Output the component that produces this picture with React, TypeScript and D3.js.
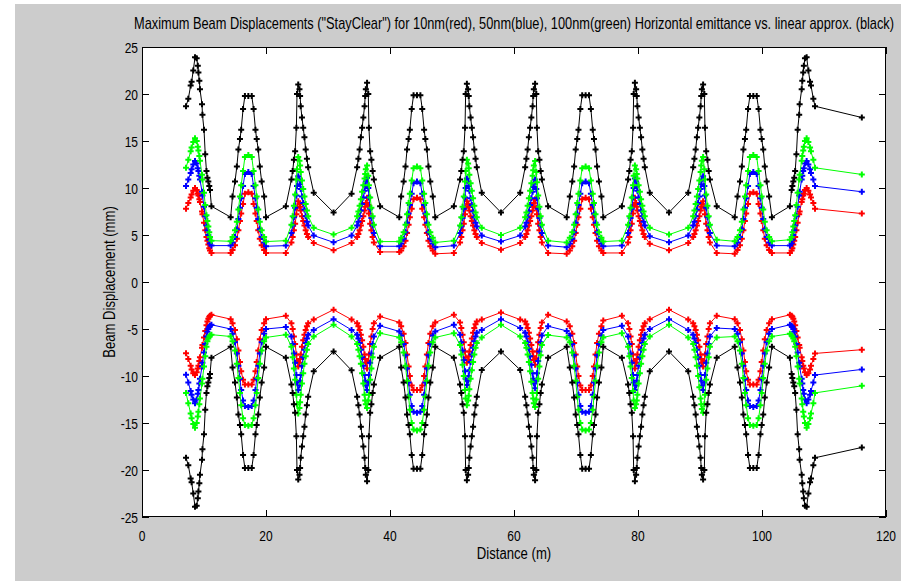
import React from 'react';
import * as d3 from 'd3';

// Distance along the beamline (m)
const distance = [
  7.1, 7.47, 7.85, 8.0, 8.27, 8.55, 8.82, 9.0, 9.1, 9.25, 9.35, 9.68, 9.75, 10.0, 10.2, 10.4, 10.55, 10.7, 10.85, 10.97, 11.2,
  14.3,
  14.6, 15.0, 15.3, 15.55, 15.8, 16.0, 16.3, 16.6, 17.15, 17.7, 18.0, 18.3, 18.5, 18.75, 19.0, 19.3, 19.7,
  20.0, 23.2,
  24.1, 24.3, 24.5, 24.7, 24.9, 25.0, 25.2, 25.4, 25.5, 25.6, 25.8, 26.0, 26.2, 26.4, 26.6, 26.8,
  27.7, 30.9, 33.8,
  34.7, 34.9, 35.1, 35.3, 35.5, 35.7, 35.9, 36.0, 36.1, 36.3, 36.5, 36.6, 36.8, 37.0, 37.2, 37.4,
  38.4, 41.5,
  41.8, 42.2, 42.5, 42.75, 43.0, 43.2, 43.5, 43.8, 44.35, 44.9, 45.2, 45.5, 45.7, 45.95, 46.2, 46.5, 46.9,
  47.3, 50.3,
  51.3, 51.5, 51.7, 51.9, 52.1, 52.2, 52.4, 52.6, 52.7, 52.8, 53.0, 53.2, 53.4, 53.6, 53.8, 54.0,
  54.8, 57.9, 61.0,
  61.8, 62.0, 62.2, 62.4, 62.6, 62.8, 63.0, 63.1, 63.2, 63.4, 63.6, 63.7, 63.9, 64.1, 64.3, 64.5,
  65.5, 68.5,
  69.0, 69.4, 69.7, 69.95, 70.2, 70.4, 70.7, 71.0, 71.55, 72.1, 72.4, 72.7, 72.9, 73.15, 73.4, 73.7, 74.1,
  74.4, 77.4,
  78.4, 78.6, 78.8, 79.0, 79.2, 79.3, 79.5, 79.7, 79.8, 79.9, 80.1, 80.3, 80.5, 80.7, 80.9, 81.1,
  81.9, 85.0, 88.1,
  88.9, 89.1, 89.3, 89.5, 89.7, 89.9, 90.1, 90.2, 90.3, 90.5, 90.7, 90.8, 91.0, 91.2, 91.4, 91.6,
  92.7, 95.6,
  96.05, 96.45, 96.75, 97.0, 97.25, 97.45, 97.75, 98.05, 98.6, 99.15, 99.45, 99.75, 99.95, 100.2, 100.45, 100.75, 101.15,
  101.6, 104.5,
  104.78, 104.9, 105.05, 105.2, 105.35, 105.55, 105.75, 106.0, 106.07, 106.4, 106.5, 106.65, 106.75, 106.93, 107.2, 107.48, 107.75, 107.9, 108.28, 108.55,
  116.1,
];

// Linear approximation (black), upper envelope
const upperBlack = [
  18.7, 19.5, 20.9, 21.3, 22.5, 23.9, 23.8, 23.0, 22.3, 21.4, 20.5, 18.9, 17.8, 16.2, 13.6, 11.8, 11.1, 10.7, 10.2, 9.8, 8.06,
  6.9,
  9.1, 10.7, 12.3, 14.1, 15.2, 16.2, 18.4, 19.8, 19.8, 19.8, 18.4, 16.2, 15.2, 14.1, 12.3, 10.7, 9.1,
  6.9, 8.06,
  10.9, 11.8, 13.0, 13.9, 16.4, 20.0, 21.0, 20.5, 19.8, 18.7, 17.5, 16.4, 15.4, 14.1, 13.1, 12.2,
  9.5, 7.4, 9.4,
  12.2, 13.1, 14.1, 15.4, 16.4, 17.5, 18.7, 19.8, 20.5, 21.2, 20.0, 16.4, 13.9, 13.0, 11.8, 10.9,
  8.06, 6.9,
  9.1, 10.7, 12.3, 14.1, 15.2, 16.2, 18.4, 19.86, 19.86, 19.86, 18.4, 16.2, 15.2, 14.1, 12.3, 10.7, 9.1,
  6.9, 8.06,
  10.9, 11.8, 13.0, 13.9, 16.4, 20.0, 21.1, 20.5, 19.8, 18.7, 17.5, 16.4, 15.4, 14.1, 13.1, 12.2,
  9.5, 7.4, 9.5,
  12.2, 13.1, 14.1, 15.4, 16.4, 17.5, 18.7, 19.8, 20.5, 21.1, 20.0, 16.4, 13.9, 13.0, 11.8, 10.9,
  8.06, 6.9,
  9.1, 10.7, 12.3, 14.1, 15.2, 16.2, 18.4, 19.86, 19.86, 19.86, 18.4, 16.2, 15.2, 14.1, 12.3, 10.7, 9.1,
  6.9, 8.06,
  10.9, 11.8, 13.0, 13.9, 16.4, 20.0, 21.2, 20.5, 19.8, 18.7, 17.5, 16.4, 15.4, 14.1, 13.1, 12.2,
  9.5, 7.4, 9.5,
  12.2, 13.1, 14.1, 15.4, 16.4, 17.5, 18.7, 19.8, 20.5, 21.0, 20.0, 16.4, 13.9, 13.0, 11.8, 10.9,
  8.06, 6.9,
  9.1, 10.7, 12.3, 14.1, 15.2, 16.2, 18.4, 19.8, 19.8, 19.8, 18.4, 16.2, 15.2, 14.1, 12.3, 10.7, 9.1,
  6.9, 8.06,
  9.8, 10.2, 10.7, 11.1, 11.8, 13.6, 16.2, 17.8, 18.9, 20.5, 21.4, 22.3, 23.0, 23.8, 23.9, 22.5, 21.3, 20.9, 19.5, 18.7,
  17.5,
];

// 10 nm (red), upper
const upperRed = [
  7.8, 8.4, 9.0, 9.3, 9.7, 10.0, 9.8, 9.4, 9.2, 8.8, 8.5, 7.5, 7.2, 6.3, 5.5, 4.8, 4.4, 4.0, 3.6, 3.35, 3.09,
  3.09,
  3.4, 3.9, 4.6, 5.5, 6.5, 7.3, 8.3, 9.4, 9.55, 9.4, 8.3, 7.3, 6.5, 5.5, 4.6, 3.9, 3.4,
  3.09, 3.09,
  4.2, 4.8, 5.5, 6.2, 7.2, 7.9, 8.6, 8.3, 8.0, 7.6, 7.0, 6.5, 6.0, 5.5, 5.1, 4.8,
  4.15, 3.37, 4.15,
  4.8, 5.1, 5.5, 6.0, 6.5, 7.0, 7.6, 8.0, 8.4, 8.95, 8.2, 7.3, 6.2, 5.5, 4.8, 4.2,
  3.2, 3.2,
  3.35, 3.8, 4.4, 5.2, 6.1, 6.9, 7.8, 8.8, 8.95, 8.8, 7.8, 6.9, 6.1, 5.2, 4.4, 3.8, 3.35,
  3.0, 3.09,
  4.2, 4.8, 5.5, 6.2, 7.2, 7.9, 8.6, 8.3, 8.0, 7.6, 7.0, 6.5, 6.0, 5.5, 5.1, 4.8,
  4.15, 3.44, 4.15,
  4.8, 5.1, 5.5, 6.0, 6.5, 7.0, 7.6, 8.0, 8.4, 8.8, 7.9, 7.2, 6.2, 5.5, 4.8, 4.2,
  3.09, 3.0,
  3.35, 3.8, 4.4, 5.2, 6.1, 6.9, 7.8, 8.8, 8.95, 8.8, 7.8, 6.9, 6.1, 5.2, 4.4, 3.8, 3.35,
  3.09, 3.09,
  4.2, 4.8, 5.5, 6.2, 7.3, 8.2, 8.95, 8.4, 8.0, 7.6, 7.0, 6.5, 6.0, 5.5, 5.1, 4.8,
  4.08, 3.37, 4.15,
  4.8, 5.1, 5.5, 6.0, 6.5, 7.0, 7.6, 8.0, 8.3, 8.6, 7.9, 7.2, 6.2, 5.5, 4.8, 4.2,
  3.09, 3.0,
  3.4, 3.9, 4.6, 5.5, 6.5, 7.3, 8.3, 9.4, 9.55, 9.4, 8.3, 7.3, 6.5, 5.5, 4.6, 3.9, 3.4,
  3.09, 3.09,
  3.35, 3.6, 4.0, 4.4, 4.8, 5.5, 6.3, 7.2, 7.5, 8.5, 8.8, 9.2, 9.4, 9.8, 10.0, 9.7, 9.3, 9.0, 8.4, 7.8,
  7.28,
];

// 50 nm (blue), upper
const upperBlue = [
  10.2, 10.9, 11.6, 12.0, 12.5, 12.86, 12.6, 12.1, 11.8, 11.3, 10.9, 9.6, 9.2, 8.0, 7.0, 6.0, 5.5, 5.0, 4.5, 4.1, 3.87,
  3.87,
  4.2, 4.8, 5.6, 6.7, 7.9, 8.9, 10.2, 11.5, 11.7, 11.5, 10.2, 8.9, 7.9, 6.7, 5.6, 4.8, 4.2,
  3.8, 3.87,
  5.2, 6.0, 6.9, 7.9, 9.2, 10.2, 11.26, 10.9, 10.4, 9.9, 9.1, 8.4, 7.7, 7.0, 6.4, 6.0,
  4.94, 4.22, 4.94,
  6.0, 6.4, 7.0, 7.6, 8.3, 9.0, 9.7, 10.2, 10.7, 11.1, 10.0, 9.0, 7.8, 6.8, 6.0, 5.2,
  3.8, 3.8,
  4.1, 4.6, 5.3, 6.3, 7.3, 8.2, 9.4, 10.5, 10.7, 10.5, 9.4, 8.2, 7.3, 6.3, 5.3, 4.6, 4.1,
  3.7, 3.87,
  5.2, 5.9, 6.8, 7.8, 9.0, 10.0, 11.0, 10.7, 10.2, 9.7, 8.9, 8.2, 7.5, 6.9, 6.3, 5.9,
  4.94, 4.3, 4.94,
  5.9, 6.3, 6.9, 7.5, 8.2, 8.9, 9.6, 10.1, 10.5, 10.9, 9.9, 8.9, 7.8, 6.8, 6.0, 5.2,
  3.87, 3.7,
  4.1, 4.6, 5.3, 6.3, 7.3, 8.2, 9.4, 10.5, 10.7, 10.5, 9.4, 8.2, 7.3, 6.3, 5.3, 4.6, 4.1,
  3.8, 3.87,
  5.2, 6.0, 6.8, 7.8, 9.0, 10.0, 11.0, 10.7, 10.2, 9.7, 9.0, 8.3, 7.6, 7.0, 6.4, 6.0,
  4.86, 4.22, 4.94,
  6.0, 6.4, 7.0, 7.7, 8.4, 9.1, 9.9, 10.4, 10.9, 11.26, 10.2, 9.2, 7.9, 6.9, 6.0, 5.2,
  3.87, 3.8,
  4.2, 4.8, 5.6, 6.7, 7.9, 8.9, 10.2, 11.5, 11.7, 11.5, 10.2, 8.9, 7.9, 6.7, 5.6, 4.8, 4.2,
  3.87, 3.87,
  4.1, 4.5, 5.0, 5.5, 6.0, 7.0, 8.0, 9.2, 9.6, 10.9, 11.3, 11.8, 12.1, 12.6, 12.86, 12.5, 12.0, 11.6, 10.9, 10.2,
  9.6,
];

// 100 nm (green), upper
const upperGreen = [
  12.15, 13.0, 13.9, 14.3, 14.9, 15.3, 15.0, 14.4, 14.0, 13.4, 12.9, 11.4, 10.9, 9.5, 8.2, 7.1, 6.5, 5.9, 5.3, 4.8, 4.4,
  4.33,
  4.8, 5.5, 6.4, 7.7, 9.1, 10.3, 11.8, 13.3, 13.5, 13.3, 11.8, 10.3, 9.1, 7.7, 6.4, 5.5, 4.8,
  4.3, 4.4,
  6.1, 7.0, 8.1, 9.3, 10.9, 12.0, 13.3, 12.9, 12.4, 11.7, 10.8, 9.9, 9.1, 8.3, 7.6, 7.0,
  5.76, 5.04, 5.76,
  7.0, 7.5, 8.1, 8.8, 9.6, 10.3, 11.0, 11.5, 12.0, 12.4, 11.3, 10.3, 9.0, 7.9, 7.0, 6.1,
  4.3, 4.3,
  4.7, 5.3, 6.1, 7.2, 8.4, 9.4, 10.8, 12.1, 12.3, 12.1, 10.8, 9.4, 8.4, 7.2, 6.1, 5.3, 4.7,
  4.2, 4.4,
  6.0, 6.9, 8.0, 9.1, 10.7, 11.8, 13.0, 12.6, 12.1, 11.4, 10.5, 9.7, 8.9, 8.1, 7.4, 6.9,
  5.76, 5.0, 5.76,
  6.9, 7.4, 8.1, 8.9, 9.7, 10.5, 11.3, 11.9, 12.4, 12.86, 11.7, 10.6, 9.2, 8.0, 7.0, 6.1,
  4.4, 4.2,
  4.7, 5.3, 6.1, 7.2, 8.4, 9.4, 10.8, 12.1, 12.3, 12.1, 10.8, 9.4, 8.4, 7.2, 6.1, 5.3, 4.7,
  4.3, 4.4,
  6.1, 7.0, 7.9, 9.0, 10.3, 11.3, 12.4, 12.0, 11.5, 11.0, 10.3, 9.6, 8.8, 8.1, 7.5, 7.0,
  5.76, 5.04, 5.76,
  7.0, 7.6, 8.3, 9.1, 9.9, 10.8, 11.7, 12.4, 12.9, 13.3, 12.0, 10.9, 9.3, 8.1, 7.0, 6.1,
  4.5, 4.33,
  4.8, 5.5, 6.4, 7.7, 9.1, 10.3, 11.8, 13.3, 13.5, 13.3, 11.8, 10.3, 9.1, 7.7, 6.4, 5.5, 4.8,
  4.33, 4.5,
  4.8, 5.3, 5.9, 6.5, 7.1, 8.2, 9.5, 10.9, 11.4, 12.9, 13.4, 14.0, 14.4, 15.0, 15.3, 14.9, 14.3, 13.9, 13.0, 12.15,
  11.44,
];

// Linear approximation (black), lower envelope
const lowerBlack = [
  -18.7, -19.5, -20.9, -21.3, -22.5, -23.9, -23.8, -23.0, -22.3, -21.4, -20.5, -18.9, -17.8, -16.2, -13.6, -11.8, -11.1, -10.7, -10.2, -9.8, -8.06,
  -6.9,
  -9.1, -10.7, -12.3, -14.1, -15.2, -16.2, -18.4, -19.8, -19.8, -19.8, -18.4, -16.2, -15.2, -14.1, -12.3, -10.7, -9.1,
  -6.9, -8.06,
  -10.9, -11.8, -13.0, -13.9, -16.4, -20.0, -21.0, -20.5, -19.8, -18.7, -17.5, -16.4, -15.4, -14.1, -13.1, -12.2,
  -9.5, -7.4, -9.4,
  -12.2, -13.1, -14.1, -15.4, -16.4, -17.5, -18.7, -19.8, -20.5, -21.2, -20.0, -16.4, -13.9, -13.0, -11.8, -10.9,
  -8.06, -6.9,
  -9.1, -10.7, -12.3, -14.1, -15.2, -16.2, -18.4, -19.86, -19.86, -19.86, -18.4, -16.2, -15.2, -14.1, -12.3, -10.7, -9.1,
  -6.9, -8.06,
  -10.9, -11.8, -13.0, -13.9, -16.4, -20.0, -21.1, -20.5, -19.8, -18.7, -17.5, -16.4, -15.4, -14.1, -13.1, -12.2,
  -9.35, -7.4, -9.35,
  -12.2, -13.1, -14.1, -15.4, -16.4, -17.5, -18.7, -19.8, -20.5, -21.1, -20.0, -16.4, -13.9, -13.0, -11.8, -10.9,
  -8.06, -6.9,
  -9.1, -10.7, -12.3, -14.1, -15.2, -16.2, -18.4, -19.86, -19.86, -19.86, -18.4, -16.2, -15.2, -14.1, -12.3, -10.7, -9.1,
  -6.9, -8.06,
  -10.9, -11.8, -13.0, -13.9, -16.4, -20.0, -21.2, -20.5, -19.8, -18.7, -17.5, -16.4, -15.4, -14.1, -13.1, -12.2,
  -9.5, -7.4, -9.5,
  -12.2, -13.1, -14.1, -15.4, -16.4, -17.5, -18.7, -19.8, -20.5, -21.0, -20.0, -16.4, -13.9, -13.0, -11.8, -10.9,
  -8.06, -6.9,
  -9.1, -10.7, -12.3, -14.1, -15.2, -16.2, -18.4, -19.8, -19.8, -19.8, -18.4, -16.2, -15.2, -14.1, -12.3, -10.7, -9.1,
  -6.9, -8.06,
  -9.8, -10.2, -10.7, -11.1, -11.8, -13.6, -16.2, -17.8, -18.9, -20.5, -21.4, -22.3, -23.0, -23.8, -23.9, -22.5, -21.3, -20.9, -19.5, -18.7,
  -17.6,
];

// 10 nm (red), lower
const lowerRed = [
  -7.57, -8.2, -8.9, -9.3, -9.7, -9.9, -9.6, -9.2, -8.9, -8.4, -8.0, -7.0, -6.7, -5.9, -5.2, -4.6, -4.2, -3.9, -3.7, -3.6, -3.49,
  -3.95,
  -4.4, -5.1, -6.1, -7.3, -8.5, -9.5, -10.4, -10.9, -10.9, -10.9, -10.4, -9.5, -8.5, -7.3, -6.1, -5.1, -4.4,
  -3.95, -3.6,
  -4.4, -5.0, -5.8, -6.6, -7.7, -8.4, -9.0, -8.6, -8.2, -7.7, -6.9, -6.2, -5.6, -5.1, -4.7, -4.4,
  -4.0, -2.95, -4.0,
  -4.4, -4.7, -5.1, -5.6, -6.2, -6.9, -7.7, -8.2, -8.6, -9.2, -8.4, -7.7, -6.6, -5.8, -5.0, -4.4,
  -3.66, -4.3,
  -4.7, -5.5, -6.5, -7.7, -9.0, -10.0, -11.0, -11.5, -11.5, -11.5, -11.0, -10.0, -9.0, -7.7, -6.5, -5.5, -4.7,
  -4.3, -3.49,
  -4.3, -4.9, -5.6, -6.4, -7.4, -8.0, -8.6, -8.3, -7.9, -7.4, -6.7, -6.0, -5.4, -4.9, -4.5, -4.2,
  -4.0, -3.24, -4.0,
  -4.2, -4.5, -4.9, -5.4, -6.0, -6.7, -7.4, -7.9, -8.3, -8.8, -8.1, -7.4, -6.4, -5.6, -4.9, -4.3,
  -3.49, -4.2,
  -4.7, -5.5, -6.5, -7.7, -9.0, -10.0, -11.0, -11.5, -11.5, -11.5, -11.0, -10.0, -9.0, -7.7, -6.5, -5.5, -4.7,
  -4.1, -3.6,
  -4.4, -5.0, -5.8, -6.6, -7.7, -8.4, -9.2, -8.6, -8.2, -7.7, -6.9, -6.2, -5.6, -5.1, -4.7, -4.4,
  -3.95, -2.95, -4.0,
  -4.4, -4.7, -5.1, -5.6, -6.2, -6.9, -7.7, -8.2, -8.6, -9.0, -8.4, -7.7, -6.6, -5.8, -5.0, -4.4,
  -3.6, -3.95,
  -4.4, -5.1, -6.1, -7.3, -8.5, -9.5, -10.4, -10.9, -10.9, -10.9, -10.4, -9.5, -8.5, -7.3, -6.1, -5.1, -4.4,
  -3.95, -3.49,
  -3.6, -3.7, -3.9, -4.2, -4.6, -5.2, -5.9, -6.7, -7.0, -8.0, -8.4, -8.9, -9.2, -9.6, -9.9, -9.7, -9.3, -8.9, -8.2, -7.6,
  -7.2,
];

// 50 nm (blue), lower
const lowerBlue = [
  -9.88, -10.7, -11.6, -12.0, -12.5, -12.9, -12.5, -11.9, -11.5, -10.8, -10.3, -9.0, -8.6, -7.5, -6.6, -5.8, -5.3, -5.0, -4.8, -4.65, -4.55,
  -5.0,
  -5.5, -6.4, -7.6, -8.9, -10.3, -11.5, -12.6, -13.2, -13.3, -13.2, -12.6, -11.5, -10.3, -8.9, -7.6, -6.4, -5.5,
  -5.0, -4.8,
  -5.8, -6.6, -7.6, -8.6, -9.9, -10.7, -11.5, -11.0, -10.5, -9.9, -8.9, -8.0, -7.2, -6.5, -6.0, -5.6,
  -5.1, -3.95, -5.1,
  -5.6, -6.0, -6.5, -7.2, -8.0, -8.9, -9.9, -10.5, -11.0, -11.5, -10.7, -9.9, -8.6, -7.6, -6.6, -5.8,
  -4.66, -5.26,
  -5.7, -6.6, -7.8, -9.2, -10.7, -12.0, -13.2, -13.8, -13.9, -13.8, -13.2, -12.0, -10.7, -9.2, -7.8, -6.6, -5.7,
  -5.26, -4.55,
  -5.6, -6.4, -7.3, -8.3, -9.5, -10.3, -10.95, -10.5, -10.0, -9.4, -8.5, -7.7, -7.0, -6.3, -5.8, -5.4,
  -5.1, -3.95, -4.9,
  -5.4, -5.8, -6.4, -7.1, -7.9, -8.8, -9.7, -10.3, -10.8, -11.3, -10.5, -9.7, -8.4, -7.4, -6.4, -5.7,
  -4.7, -5.2,
  -5.7, -6.6, -7.8, -9.2, -10.7, -12.0, -13.2, -13.8, -13.9, -13.8, -13.2, -12.0, -10.7, -9.2, -7.8, -6.6, -5.7,
  -5.1, -4.66,
  -5.8, -6.6, -7.6, -8.6, -9.9, -10.7, -11.5, -11.0, -10.5, -9.9, -8.9, -8.0, -7.2, -6.5, -6.0, -5.6,
  -5.0, -3.95, -5.1,
  -5.6, -6.0, -6.5, -7.2, -8.0, -8.9, -9.9, -10.5, -11.0, -11.5, -10.7, -9.9, -8.6, -7.6, -6.6, -5.8,
  -4.9, -5.0,
  -5.5, -6.4, -7.6, -8.9, -10.3, -11.5, -12.6, -13.2, -13.3, -13.2, -12.6, -11.5, -10.3, -8.9, -7.6, -6.4, -5.5,
  -5.0, -4.55,
  -4.65, -4.8, -5.0, -5.3, -5.8, -6.6, -7.5, -8.6, -9.0, -10.3, -10.8, -11.5, -11.9, -12.5, -12.9, -12.5, -12.0, -11.6, -10.7, -9.9,
  -9.3,
];

// 100 nm (green), lower
const lowerGreen = [
  -11.8, -12.9, -14.0, -14.5, -15.1, -15.5, -15.0, -14.3, -13.8, -13.0, -12.4, -10.8, -10.3, -9.0, -7.9, -6.9, -6.3, -6.0, -5.8, -5.7, -5.6,
  -5.8,
  -6.3, -7.3, -8.7, -10.2, -11.8, -13.1, -14.5, -15.2, -15.3, -15.2, -14.5, -13.1, -11.8, -10.2, -8.7, -7.3, -6.3,
  -5.9, -5.6,
  -6.9, -8.0, -9.2, -10.4, -12.0, -13.0, -14.0, -13.4, -12.8, -12.0, -10.8, -9.7, -8.7, -7.9, -7.2, -6.6,
  -5.8, -4.55, -5.8,
  -6.6, -7.2, -7.9, -8.7, -9.7, -10.8, -12.0, -12.6, -13.0, -13.4, -12.6, -12.0, -10.4, -9.2, -8.0, -6.9,
  -5.44, -5.9,
  -6.4, -7.5, -8.9, -10.5, -12.2, -13.6, -15.0, -15.7, -15.8, -15.7, -15.0, -13.6, -12.2, -10.5, -8.9, -7.5, -6.4,
  -5.9, -5.44,
  -6.7, -7.7, -8.8, -10.0, -11.5, -12.4, -13.1, -12.6, -12.1, -11.4, -10.3, -9.4, -8.5, -7.7, -7.0, -6.5,
  -5.9, -4.55, -5.8,
  -6.5, -7.0, -7.7, -8.5, -9.5, -10.6, -11.8, -12.4, -12.9, -13.3, -12.5, -11.8, -10.3, -9.0, -7.8, -6.7,
  -5.65, -5.9,
  -6.4, -7.5, -8.9, -10.5, -12.2, -13.6, -15.0, -15.7, -15.8, -15.7, -15.0, -13.6, -12.2, -10.5, -8.9, -7.5, -6.4,
  -5.9, -5.44,
  -6.9, -7.9, -9.0, -10.2, -11.6, -12.6, -13.4, -13.0, -12.6, -12.0, -10.8, -9.7, -8.7, -7.9, -7.2, -6.6,
  -5.8, -4.55, -5.9,
  -6.6, -7.2, -8.0, -8.9, -10.0, -11.2, -12.4, -13.0, -13.5, -13.9, -13.0, -12.0, -10.4, -9.2, -8.0, -6.9,
  -5.9, -5.8,
  -6.3, -7.3, -8.7, -10.2, -11.8, -13.1, -14.5, -15.2, -15.3, -15.2, -14.5, -13.1, -11.8, -10.2, -8.7, -7.3, -6.3,
  -5.8, -5.5,
  -5.7, -5.8, -6.0, -6.3, -6.9, -7.9, -9.0, -10.3, -10.8, -12.4, -13.0, -13.8, -14.3, -15.0, -15.5, -15.1, -14.5, -14.0, -12.9, -11.8,
  -11.05,
];

const xTicks = [0, 20, 40, 60, 80, 100, 120];
const yTicks = [-25, -20, -15, -10, -5, 0, 5, 10, 15, 20, 25];

const titleText =
  'Maximum Beam Displacements ("StayClear") for 10nm(red), 50nm(blue), 100nm(green) Horizontal emittance vs. linear approx. (black)';
const xLabel = 'Distance (m)';
const yLabel = 'Beam Displacement (mm)';

const W = 901;
const H = 581;
const FONT = '"Liberation Sans", Arial, Helvetica, sans-serif';

export default function App() {
  const x = d3.scaleLinear().domain([0, 120]).range([142, 886]);
  const y = d3.scaleLinear().domain([-25, 25]).range([517, 47]);
  const [x0, x1] = x.range();
  const [y0, y1] = [y(-25), y(25)];

  const series = [
    { vals: upperRed, color: '#ff0000' },
    { vals: upperBlue, color: '#0000ff' },
    { vals: upperGreen, color: '#00ff00' },
    { vals: lowerRed, color: '#ff0000' },
    { vals: lowerBlue, color: '#0000ff' },
    { vals: lowerGreen, color: '#00ff00' },
    { vals: upperBlack, color: '#000000' },
    { vals: lowerBlack, color: '#000000' },
  ];

  const makeLine = (vals: number[]) => {
    const n = Math.min(vals.length, distance.length);
    const pts: [number, number][] = [];
    for (let i = 0; i < n; i++) pts.push([distance[i], vals[i]]);
    return {
      d: d3.line<[number, number]>().x((p) => x(p[0])).y((p) => y(p[1]))(pts) || '',
      pts,
    };
  };

  const marker = d3.symbol().type(d3.symbolCross).size(20)() || '';
  const tickLen = 7;

  return (
    <svg
      width={W}
      height={H}
      style={{ position: 'absolute', left: 0, top: 0, display: 'block' }}
      fontFamily={FONT}
    >
      <rect x={0} y={0} width={W} height={H} fill="#ffffff" />
      <rect x={15} y={4} width={W - 15} height={H - 4} fill="#cccccc" />
      <rect x={x0} y={y1} width={x1 - x0} height={y0 - y1} fill="#ffffff" />

      <g>
        {series.map((s, si) => {
          const { d, pts } = makeLine(s.vals);
          return (
            <g key={si}>
              <path d={d} fill="none" stroke={s.color} strokeWidth={1} />
              {pts.map((p, i) => (
                <path
                  key={i}
                  d={marker}
                  transform={`translate(${x(p[0])},${y(p[1])})`}
                  fill={s.color}
                />
              ))}
            </g>
          );
        })}
      </g>

      <rect x={x0 + 0.5} y={y1 + 0.5} width={x1 - x0 - 1} height={y0 - y1 - 1} fill="none" stroke="#000" strokeWidth={1} />

      {xTicks.map((t) => (
        <g key={'x' + t}>
          <line x1={Math.round(x(t)) + 0.5} x2={Math.round(x(t)) + 0.5} y1={y0} y2={y0 - tickLen} stroke="#000" />
          <line x1={Math.round(x(t)) + 0.5} x2={Math.round(x(t)) + 0.5} y1={y1} y2={y1 + tickLen} stroke="#000" />
          <text
            transform={`translate(${x(t)},${541}) scale(0.8,1)`}
            textAnchor="middle"
            fontSize={15}
            fill="#000"
          >
            {t}
          </text>
        </g>
      ))}

      {yTicks.map((t) => (
        <g key={'y' + t}>
          <line x1={x0} x2={x0 + tickLen} y1={Math.round(y(t)) + 0.5} y2={Math.round(y(t)) + 0.5} stroke="#000" />
          <line x1={x1} x2={x1 - tickLen} y1={Math.round(y(t)) + 0.5} y2={Math.round(y(t)) + 0.5} stroke="#000" />
          <text
            transform={`translate(${x0 - 4},${y(t) + 5.5}) scale(0.8,1)`}
            textAnchor="end"
            fontSize={15}
            fill="#000"
          >
            {t}
          </text>
        </g>
      ))}

      <text
        transform={`translate(${(x0 + x1) / 2},${29}) scale(0.8,1)`}
        textAnchor="middle"
        fontSize={16}
        fill="#000"
      >
        {titleText}
      </text>

      <text
        transform={`translate(${(x0 + x1) / 2},${559}) scale(0.82,1)`}
        textAnchor="middle"
        fontSize={16}
        fill="#000"
      >
        {xLabel}
      </text>

      <text
        transform={`translate(${115},${(y0 + y1) / 2}) rotate(-90) scale(0.82,1)`}
        textAnchor="middle"
        fontSize={16}
        fill="#000"
      >
        {yLabel}
      </text>
    </svg>
  );
}
